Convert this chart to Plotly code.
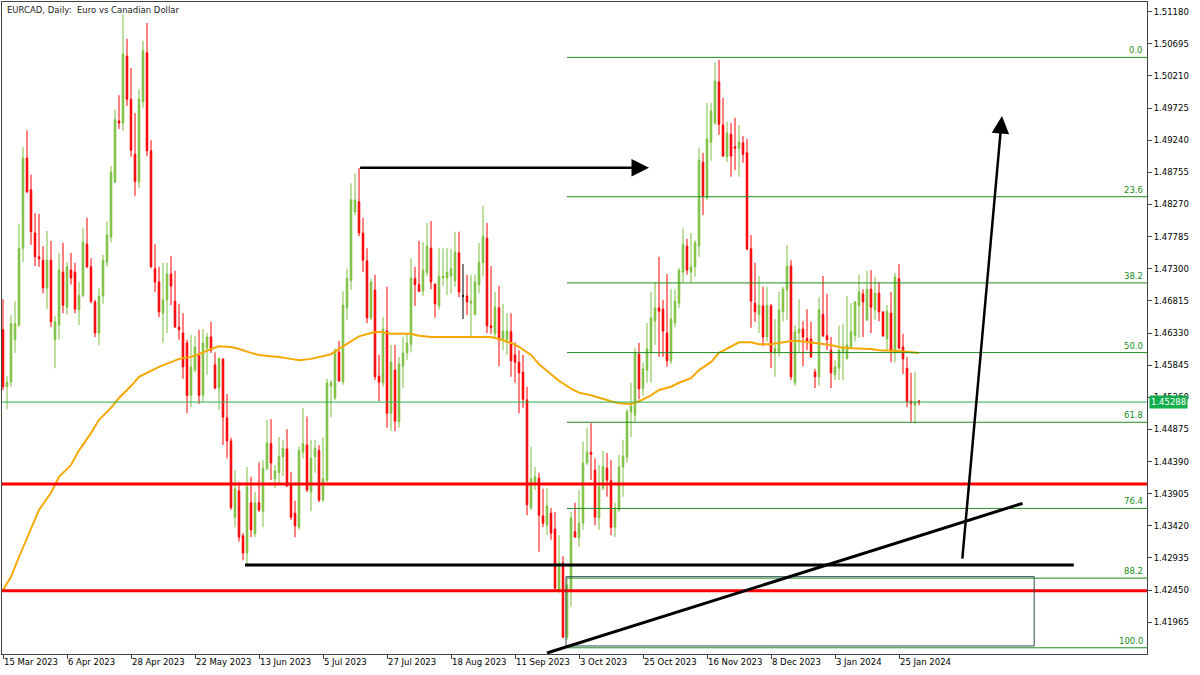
import plotly.graph_objects as go

title_text = "EURCAD, Daily:\u00a0 Euro vs Canadian Dollar"

open_ = [
    1.4638, 1.4552, 1.4559, 1.4623, 1.4645, 1.4761, 1.4897, 1.4849, 1.4784, 1.4748,
    1.4743, 1.4701, 1.4743, 1.4623, 1.4645, 1.4725, 1.4672, 1.4728, 1.4725, 1.4668,
    1.4690, 1.4767, 1.4733, 1.4680, 1.4633, 1.4689, 1.4740, 1.4778, 1.4861, 1.4953,
    1.4950, 1.5051, 1.4986, 1.4903, 1.4861, 1.4982, 1.5056, 1.4908, 1.4730, 1.4710,
    1.4663, 1.4683, 1.4722, 1.4681, 1.4642, 1.4633, 1.4618, 1.4539, 1.4577, 1.4600,
    1.4539, 1.4610, 1.4627, 1.4585, 1.4550, 1.4594, 1.4505, 1.4470, 1.4355, 1.4395,
    1.4327, 1.4301, 1.4377, 1.4330, 1.4377, 1.4364, 1.4428, 1.4466, 1.4413, 1.4422,
    1.4446, 1.4458, 1.4405, 1.4361, 1.4340, 1.4453, 1.4464, 1.4393, 1.4446, 1.4456,
    1.4381, 1.4411, 1.4553, 1.4535, 1.4604, 1.4559, 1.4671, 1.4712, 1.4816, 1.4831,
    1.4784, 1.4742, 1.4656, 1.4698, 1.4568, 1.4558, 1.4636, 1.4512, 1.4577, 1.4499,
    1.4583, 1.4603, 1.4616, 1.4715, 1.4706, 1.4696, 1.4724, 1.4761, 1.4707, 1.4674,
    1.4716, 1.4716, 1.4719, 1.4712, 1.4754, 1.4689, 1.4689, 1.4678, 1.4661, 1.4706,
    1.4739, 1.4776, 1.4644, 1.4632, 1.4671, 1.4623, 1.4623, 1.4635, 1.4600, 1.4589,
    1.4574, 1.4532, 1.4369, 1.4407, 1.4414, 1.4357, 1.4343, 1.4361, 1.4337, 1.4245,
    1.4286, 1.4174, 1.4245, 1.4333, 1.4324, 1.4346, 1.4437, 1.4453, 1.4426, 1.4354,
    1.4399, 1.4429, 1.4410, 1.4340, 1.4366, 1.4431, 1.4446, 1.4514, 1.4509, 1.4601,
    1.4549, 1.4577, 1.4604, 1.4651, 1.4671, 1.4669, 1.4633, 1.4591, 1.4648, 1.4678,
    1.4725, 1.4764, 1.4725, 1.4733, 1.4764, 1.4891, 1.4837, 1.4921, 1.4950, 1.5012,
    1.4947, 1.4899, 1.4933, 1.4914, 1.4912, 1.4920, 1.4905, 1.4760, 1.4678, 1.4661,
    1.4674, 1.4627, 1.4674, 1.4603, 1.4604, 1.4665, 1.4698, 1.4734, 1.4558, 1.4633,
    1.4639, 1.4625, 1.4624, 1.4574, 1.4567, 1.4661, 1.4629, 1.4607, 1.4570, 1.4580,
    1.4604, 1.4595, 1.4612, 1.4629, 1.4674, 1.4692, 1.4653, 1.4699, 1.4668, 1.4693,
    1.4665, 1.4624, 1.4663, 1.4604, 1.4715, 1.4612, 1.4580, 1.4530, 1.4524, 1.4530,
]

high = [
    1.4684, 1.4568, 1.4660, 1.4681, 1.4798, 1.4914, 1.4939, 1.4872, 1.4814, 1.4813,
    1.4764, 1.4787, 1.4772, 1.4659, 1.4754, 1.4769, 1.4740, 1.4754, 1.4739, 1.4710,
    1.4791, 1.4807, 1.4746, 1.4683, 1.4701, 1.4751, 1.4801, 1.4885, 1.4970, 1.4992,
    1.5114, 1.5077, 1.5033, 1.4965, 1.5001, 1.5074, 1.5101, 1.4924, 1.4767, 1.4733,
    1.4739, 1.4739, 1.4749, 1.4727, 1.4677, 1.4663, 1.4623, 1.4630, 1.4629, 1.4638,
    1.4639, 1.4633, 1.4650, 1.4604, 1.4595, 1.4594, 1.4541, 1.4475, 1.4426, 1.4408,
    1.4331, 1.4431, 1.4416, 1.4393, 1.4438, 1.4441, 1.4502, 1.4503, 1.4434, 1.4476,
    1.4472, 1.4488, 1.4423, 1.4380, 1.4462, 1.4520, 1.4507, 1.4472, 1.4472, 1.4464,
    1.4476, 1.4564, 1.4562, 1.4610, 1.4621, 1.4696, 1.4730, 1.4859, 1.4874, 1.4882,
    1.4807, 1.4761, 1.4715, 1.4721, 1.4600, 1.4657, 1.4703, 1.4615, 1.4615, 1.4597,
    1.4627, 1.4633, 1.4746, 1.4733, 1.4772, 1.4770, 1.4799, 1.4802, 1.4707, 1.4761,
    1.4761, 1.4761, 1.4760, 1.4786, 1.4786, 1.4737, 1.4721, 1.4721, 1.4721, 1.4769,
    1.4825, 1.4799, 1.4734, 1.4695, 1.4704, 1.4677, 1.4663, 1.4663, 1.4619, 1.4607,
    1.4600, 1.4552, 1.4461, 1.4431, 1.4422, 1.4398, 1.4399, 1.4369, 1.4363, 1.4328,
    1.4296, 1.4263, 1.4363, 1.4377, 1.4396, 1.4469, 1.4490, 1.4497, 1.4444, 1.4434,
    1.4455, 1.4452, 1.4441, 1.4377, 1.4449, 1.4472, 1.4518, 1.4558, 1.4610, 1.4618,
    1.4588, 1.4648, 1.4695, 1.4710, 1.4748, 1.4683, 1.4722, 1.4699, 1.4699, 1.4731,
    1.4791, 1.4775, 1.4784, 1.4773, 1.4912, 1.4905, 1.4980, 1.4980, 1.5041, 1.5045,
    1.4988, 1.4952, 1.4950, 1.4958, 1.4947, 1.4930, 1.4926, 1.4781, 1.4739, 1.4719,
    1.4703, 1.4703, 1.4677, 1.4654, 1.4695, 1.4703, 1.4766, 1.4743, 1.4645, 1.4684,
    1.4651, 1.4669, 1.4650, 1.4579, 1.4687, 1.4719, 1.4692, 1.4627, 1.4592, 1.4644,
    1.4647, 1.4689, 1.4678, 1.4681, 1.4721, 1.4699, 1.4727, 1.4728, 1.4718, 1.4710,
    1.4665, 1.4675, 1.4695, 1.4724, 1.4737, 1.4632, 1.4597, 1.4573, 1.4574, 1.4532,
]

low = [
    1.4547, 1.4518, 1.4552, 1.4603, 1.4642, 1.4740, 1.4844, 1.4766, 1.4734, 1.4733,
    1.4693, 1.4669, 1.4642, 1.4580, 1.4623, 1.4663, 1.4661, 1.4706, 1.4663, 1.4645,
    1.4687, 1.4731, 1.4678, 1.4627, 1.4615, 1.4677, 1.4733, 1.4770, 1.4859, 1.4941,
    1.4938, 1.4976, 1.4899, 1.4840, 1.4852, 1.4973, 1.4900, 1.4731, 1.4695, 1.4657,
    1.4618, 1.4633, 1.4675, 1.4641, 1.4623, 1.4564, 1.4512, 1.4521, 1.4574, 1.4526,
    1.4529, 1.4570, 1.4603, 1.4548, 1.4517, 1.4464, 1.4444, 1.4366, 1.4340, 1.4318,
    1.4290, 1.4283, 1.4325, 1.4325, 1.4363, 1.4340, 1.4426, 1.4411, 1.4399, 1.4407,
    1.4417, 1.4401, 1.4351, 1.4325, 1.4336, 1.4444, 1.4393, 1.4364, 1.4422, 1.4378,
    1.4378, 1.4408, 1.4506, 1.4532, 1.4559, 1.4555, 1.4653, 1.4698, 1.4811, 1.4779,
    1.4725, 1.4648, 1.4653, 1.4562, 1.4530, 1.4552, 1.4490, 1.4485, 1.4485, 1.4490,
    1.4550, 1.4592, 1.4604, 1.4674, 1.4695, 1.4689, 1.4719, 1.4699, 1.4656, 1.4668,
    1.4704, 1.4690, 1.4693, 1.4703, 1.4687, 1.4654, 1.4660, 1.4627, 1.4660, 1.4693,
    1.4718, 1.4633, 1.4632, 1.4624, 1.4583, 1.4607, 1.4600, 1.4567, 1.4558, 1.4512,
    1.4520, 1.4358, 1.4366, 1.4396, 1.4303, 1.4340, 1.4328, 1.4321, 1.4245, 1.4241,
    1.4173, 1.4170, 1.4220, 1.4324, 1.4310, 1.4336, 1.4434, 1.4411, 1.4343, 1.4336,
    1.4396, 1.4386, 1.4328, 1.4325, 1.4363, 1.4386, 1.4438, 1.4476, 1.4499, 1.4533,
    1.4539, 1.4558, 1.4558, 1.4615, 1.4597, 1.4597, 1.4582, 1.4586, 1.4642, 1.4671,
    1.4710, 1.4721, 1.4709, 1.4718, 1.4748, 1.4811, 1.4834, 1.4893, 1.4947, 1.4932,
    1.4899, 1.4891, 1.4869, 1.4879, 1.4869, 1.4890, 1.4758, 1.4641, 1.4650, 1.4633,
    1.4613, 1.4620, 1.4580, 1.4567, 1.4597, 1.4650, 1.4653, 1.4562, 1.4553, 1.4603,
    1.4583, 1.4607, 1.4595, 1.4550, 1.4553, 1.4627, 1.4607, 1.4550, 1.4562, 1.4562,
    1.4562, 1.4592, 1.4610, 1.4620, 1.4626, 1.4627, 1.4651, 1.4633, 1.4653, 1.4651,
    1.4627, 1.4607, 1.4589, 1.4589, 1.4609, 1.4571, 1.4521, 1.4499, 1.4496, 1.4524,
]

close = [
    1.4552, 1.4559, 1.4647, 1.4647, 1.4761, 1.4897, 1.4846, 1.4786, 1.4748, 1.4745,
    1.4701, 1.4743, 1.4650, 1.4650, 1.4728, 1.4675, 1.4733, 1.4716, 1.4669, 1.4690,
    1.4770, 1.4733, 1.4681, 1.4633, 1.4689, 1.4743, 1.4781, 1.4876, 1.4955, 1.4950,
    1.5054, 1.4986, 1.4909, 1.4862, 1.4986, 1.5059, 1.4908, 1.4733, 1.4710, 1.4665,
    1.4683, 1.4722, 1.4704, 1.4642, 1.4638, 1.4582, 1.4539, 1.4582, 1.4612, 1.4539,
    1.4618, 1.4627, 1.4607, 1.4550, 1.4595, 1.4506, 1.4470, 1.4370, 1.4398, 1.4325,
    1.4301, 1.4401, 1.4336, 1.4377, 1.4366, 1.4429, 1.4467, 1.4437, 1.4425, 1.4447,
    1.4459, 1.4402, 1.4355, 1.4342, 1.4456, 1.4466, 1.4396, 1.4444, 1.4459, 1.4381,
    1.4413, 1.4558, 1.4558, 1.4607, 1.4561, 1.4675, 1.4715, 1.4834, 1.4834, 1.4784,
    1.4743, 1.4656, 1.4710, 1.4567, 1.4559, 1.4639, 1.4512, 1.4589, 1.4500, 1.4586,
    1.4603, 1.4618, 1.4716, 1.4706, 1.4696, 1.4728, 1.4764, 1.4710, 1.4677, 1.4718,
    1.4719, 1.4725, 1.4730, 1.4755, 1.4695, 1.4689, 1.4680, 1.4681, 1.4710, 1.4740,
    1.4779, 1.4644, 1.4641, 1.4672, 1.4623, 1.4636, 1.4636, 1.4591, 1.4589, 1.4573,
    1.4533, 1.4374, 1.4413, 1.4416, 1.4358, 1.4346, 1.4372, 1.4331, 1.4248, 1.4286,
    1.4174, 1.4253, 1.4354, 1.4325, 1.4346, 1.4437, 1.4453, 1.4450, 1.4355, 1.4401,
    1.4431, 1.4411, 1.4340, 1.4369, 1.4431, 1.4447, 1.4514, 1.4523, 1.4604, 1.4549,
    1.4579, 1.4609, 1.4656, 1.4671, 1.4666, 1.4636, 1.4591, 1.4654, 1.4681, 1.4728,
    1.4767, 1.4728, 1.4733, 1.4769, 1.4894, 1.4840, 1.4926, 1.4968, 1.5013, 1.4948,
    1.4900, 1.4935, 1.4900, 1.4912, 1.4921, 1.4903, 1.4760, 1.4681, 1.4665, 1.4675,
    1.4627, 1.4675, 1.4604, 1.4610, 1.4668, 1.4699, 1.4734, 1.4567, 1.4635, 1.4639,
    1.4627, 1.4621, 1.4597, 1.4567, 1.4668, 1.4629, 1.4623, 1.4573, 1.4582, 1.4607,
    1.4612, 1.4615, 1.4635, 1.4680, 1.4695, 1.4680, 1.4699, 1.4672, 1.4693, 1.4665,
    1.4629, 1.4666, 1.4607, 1.4718, 1.4610, 1.4594, 1.4529, 1.4527, 1.4529, 1.45288,
]

date_labels = ["15 Mar 2023", "6 Apr 2023", "28 Apr 2023", "22 May 2023", "13 Jun 2023",
               "5 Jul 2023", "27 Jul 2023", "18 Aug 2023", "11 Sep 2023", "3 Oct 2023",
               "25 Oct 2023", "16 Nov 2023", "8 Dec 2023", "3 Jan 2024", "25 Jan 2024"]
date_label_idx = [0, 16, 32, 48, 64, 80, 96, 112, 128, 144, 160, 176, 192, 208, 224]

ma_idx = [0, 2, 4, 7, 9, 12, 14, 17, 19, 22, 24, 27, 29, 32, 34, 37, 39, 42, 44, 47,
          49, 52, 54, 57, 59, 62, 64, 67, 69, 72, 74, 77, 79, 82, 84, 87, 89, 92, 94, 97,
          99, 102, 104, 107, 112, 117, 122, 124, 127, 129, 132, 134, 137, 139, 142, 144, 147, 149, 152, 154,
          157, 159, 162, 164, 167, 169, 172, 174, 177, 179, 182, 184, 187, 189, 192, 194, 197, 199, 202, 204,
          207, 209, 212, 217, 219, 224, 229]
ma_val = [1.4245, 1.4265, 1.4295, 1.4336, 1.4366, 1.4392, 1.4416, 1.4434, 1.4456, 1.4482,
          1.4502, 1.4520, 1.4535, 1.4553, 1.4567, 1.4576, 1.4582, 1.4589, 1.4594, 1.4597,
          1.4601, 1.4609, 1.4613, 1.4612, 1.4609, 1.4603, 1.4600, 1.4598, 1.4597, 1.4594,
          1.4592, 1.4594, 1.4597, 1.4601, 1.4609, 1.4621, 1.4628, 1.4633, 1.4635, 1.4632,
          1.4632, 1.4632, 1.4629, 1.4627, 1.4627, 1.4627, 1.4627, 1.4624, 1.4618, 1.4612,
          1.4600, 1.4586, 1.4571, 1.4561, 1.4549, 1.4543, 1.4539, 1.4535, 1.4530, 1.4527,
          1.4526, 1.4530, 1.4539, 1.4547, 1.4552, 1.4558, 1.4565, 1.4577, 1.4589, 1.4603,
          1.4612, 1.4619, 1.4619, 1.4616, 1.4616, 1.4618, 1.4621, 1.4621, 1.4619, 1.4618,
          1.4615, 1.4612, 1.4610, 1.4609, 1.4607, 1.4606, 1.4603]

y_ticks = [1.41965, 1.42450, 1.42935, 1.43420, 1.43905, 1.44390, 1.44875, 1.45360,
           1.45845, 1.46330, 1.46815, 1.47300, 1.47785, 1.48270, 1.48755, 1.49240,
           1.49725, 1.50210, 1.50695, 1.51180]

last_price = 1.45288
fib_high = 1.5049
fib_low = 1.4158
fib_levels = [0.0, 23.6, 38.2, 50.0, 61.8, 76.4, 88.2, 100.0]
fib_start = 141
red_levels = [1.44052, 1.42441]
black_level = 1.42829
black_level_span = [60.5, 267.7]
zone_x = [140.75, 257.8]
zone_y = [1.41607, 1.42653]
trend_pts = [(136.0, 1.41501), (254.9, 1.43760)]
arrow_h = [(88.9, 1.48825), (161.5, 1.48825)]
arrow_up = [(239.8, 1.42904), (249.75, 1.49605)]

X_RANGE = [-0.25, 286.0]
Y_RANGE = [1.41486, 1.51326]

UP = "#7cc03f"
DOWN = "#ff0000"
FIB = "#228b22"
FONT = "DejaVu Sans"

bars = list(range(len(close)))
doji = [i for i in bars if open_[i] == close[i]]
main = [i for i in bars if open_[i] != close[i]]

fig = go.Figure()
fig.add_trace(go.Candlestick(
    x=main,
    open=[open_[i] for i in main], high=[high[i] for i in main],
    low=[low[i] for i in main], close=[close[i] for i in main],
    increasing=dict(line=dict(color=UP, width=1), fillcolor=UP),
    decreasing=dict(line=dict(color=DOWN, width=1), fillcolor=DOWN),
    showlegend=False, hoverinfo="skip",
))
fig.add_trace(go.Candlestick(
    x=doji,
    open=[open_[i] for i in doji], high=[high[i] for i in doji],
    low=[low[i] for i in doji], close=[close[i] for i in doji],
    increasing=dict(line=dict(color="#000000", width=1), fillcolor="#000000"),
    decreasing=dict(line=dict(color="#000000", width=1), fillcolor="#000000"),
    showlegend=False, hoverinfo="skip",
))
fig.add_trace(go.Scatter(
    x=ma_idx, y=ma_val, mode="lines",
    line=dict(color="#f7a800", width=2), showlegend=False, hoverinfo="skip",
))

shapes = []
shapes.append(dict(type="line", xref="paper", x0=0, x1=1, y0=last_price, y1=last_price,
                   line=dict(color="#2ab04a", width=1), layer="above"))
span = fib_high - fib_low
for r in fib_levels:
    lv = fib_high - span * r / 100.0
    shapes.append(dict(type="line", xref="x", x0=fib_start, x1=X_RANGE[1], y0=lv, y1=lv,
                       line=dict(color=FIB, width=1), layer="above"))
for lv in red_levels:
    shapes.append(dict(type="line", xref="paper", x0=0, x1=1, y0=lv, y1=lv,
                       line=dict(color="#ff0000", width=3), layer="above"))
shapes.append(dict(type="line", x0=black_level_span[0], x1=black_level_span[1],
                   y0=black_level, y1=black_level, line=dict(color="#000000", width=3), layer="above"))
shapes.append(dict(type="rect", x0=zone_x[0], x1=zone_x[1], y0=zone_y[0], y1=zone_y[1],
                   line=dict(color="#2f4f4f", width=1), fillcolor="rgba(0,0,0,0)", layer="above"))
shapes.append(dict(type="line", x0=trend_pts[0][0], y0=trend_pts[0][1],
                   x1=trend_pts[1][0], y1=trend_pts[1][1],
                   line=dict(color="#000000", width=3), layer="above"))

annotations = []
for (p0, p1) in (arrow_h, arrow_up):
    annotations.append(dict(x=p1[0], y=p1[1], ax=p0[0], ay=p0[1], xref="x", yref="y",
                            axref="x", ayref="y", text="", showarrow=True, arrowhead=2,
                            arrowsize=1.4, arrowwidth=2.5, arrowcolor="#000000",
                            standoff=0, startstandoff=0))
for r in fib_levels:
    lv = fib_high - span * r / 100.0
    annotations.append(dict(x=1.0, y=lv, xref="paper", yref="y", xanchor="right",
                            yanchor="bottom", text=f"{r:.1f}", showarrow=False,
                            xshift=-2, yshift=0,
                            font=dict(family=FONT, size=8.5, color=FIB)))
annotations.append(dict(x=0, y=1, xref="paper", yref="paper", xanchor="left", yanchor="top",
                        text=title_text, showarrow=False, xshift=3, yshift=-1,
                        font=dict(family=FONT, size=8.5, color="#222222")))
annotations.append(dict(x=1.0, y=last_price, xref="paper", yref="y", xanchor="left",
                        yanchor="middle", text=f"{last_price:.5f}", showarrow=False,
                        xshift=2, bgcolor="#0fae4b", borderpad=1,
                        font=dict(family=FONT, size=8.5, color="#ffffff")))

fig.update_layout(
    width=1200, height=675,
    margin=dict(l=2, r=53, t=2, b=21, autoexpand=False),
    paper_bgcolor="#ffffff", plot_bgcolor="#ffffff",
    showlegend=False, boxgap=0.45,
    shapes=shapes, annotations=annotations,
    font=dict(family=FONT, size=8.5, color="#000000"),
)
fig.update_xaxes(
    range=X_RANGE, rangeslider=dict(visible=False), automargin=False,
    tickvals=date_label_idx, ticktext=date_labels,
    ticks="outside", ticklen=4, tickcolor="#444444",
    ticklabelposition="outside right",
    showgrid=False, zeroline=False,
    showline=True, mirror=True, linecolor="#444444", linewidth=1,
    tickfont=dict(family=FONT, size=8.5, color="#000000"),
)
fig.update_yaxes(
    range=Y_RANGE, side="right", automargin=False,
    tickvals=y_ticks, ticktext=[f"{v:.5f}" for v in y_ticks],
    ticks="outside", ticklen=4, tickcolor="#444444",
    showgrid=False, zeroline=False,
    showline=True, mirror=True, linecolor="#444444", linewidth=1,
    tickfont=dict(family=FONT, size=8.5, color="#000000"),
)

fig.write_html("out.html", config={"displayModeBar": False},
               post_script="document.body.style.margin='0';document.body.style.overflow='hidden';")
